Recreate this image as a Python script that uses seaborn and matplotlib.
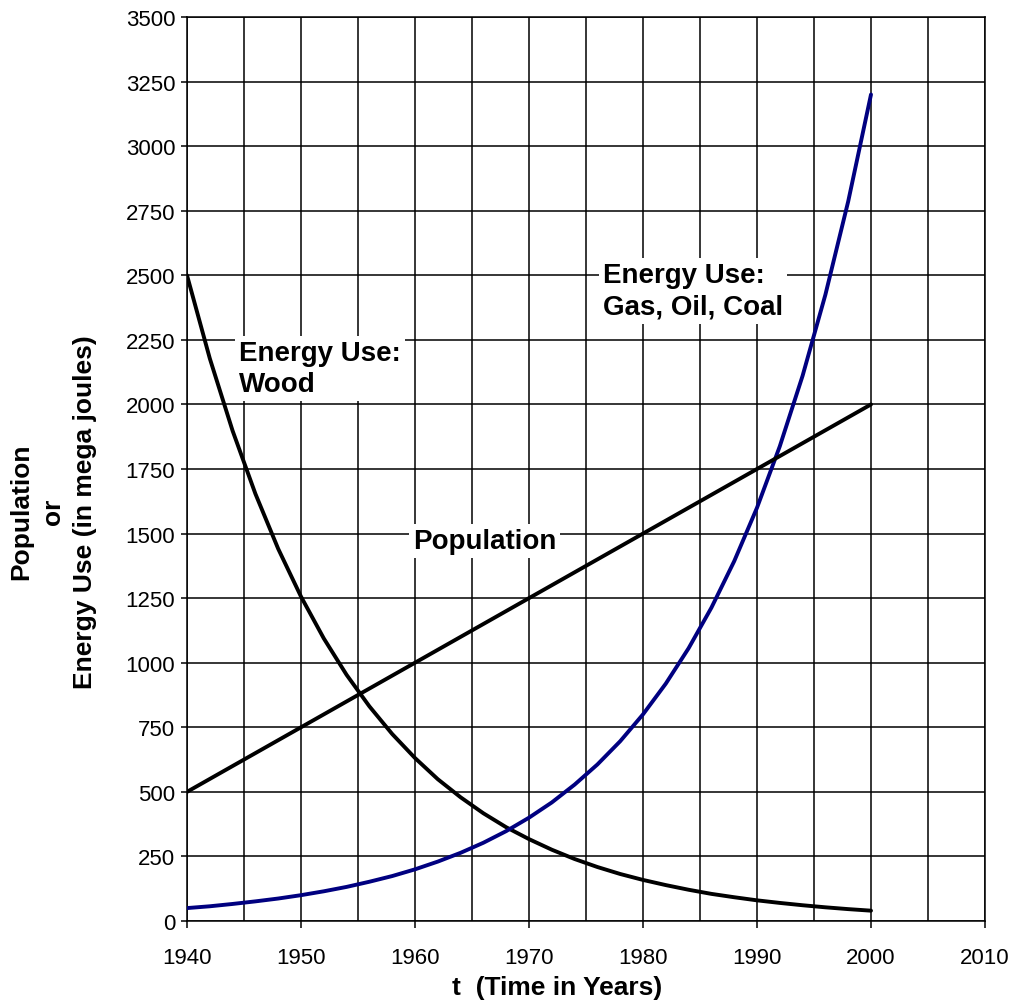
import seaborn as sns
import matplotlib.pyplot as plt
import pandas as pd
import numpy as np

sns.set_style("white")
plt.rcParams['font.family'] = ['Liberation Sans', 'DejaVu Sans']
plt.rcParams['text.color'] = 'black'
plt.rcParams['axes.labelcolor'] = 'black'
plt.rcParams['xtick.color'] = 'black'
plt.rcParams['ytick.color'] = 'black'

# values, every 2 years
years = list(range(1940, 2001, 2))
wood = [2500, 2178, 1898, 1654, 1441, 1256, 1094, 953, 831, 724, 631,
        549, 479, 417, 363, 317, 276, 240, 209, 182, 159,
        139, 121, 105, 92, 80, 70, 61, 53, 46, 40]
fossil = [50, 57, 66, 76, 87, 100, 115, 132, 152, 174, 200,
          230, 264, 303, 348, 400, 459, 528, 606, 696, 800,
          919, 1056, 1213, 1393, 1600, 1838, 2111, 2425, 2786, 3200]
pop_years = [1940, 2000]
population = [500, 2000]

df_energy = pd.DataFrame({"year": years, "wood": wood, "fossil": fossil})
df_pop = pd.DataFrame({"year": pop_years, "population": population})

fig = plt.figure(figsize=(10.14, 10.03), dpi=100)
ax = fig.add_axes([187/1014, 1 - 922/1003, 798/1014, 904/1003])

sns.lineplot(data=df_energy, x="year", y="wood", ax=ax, color="black", lw=2.8, zorder=3)
sns.lineplot(data=df_energy, x="year", y="fossil", ax=ax, color="#000080", lw=2.8, zorder=3)
sns.lineplot(data=df_pop, x="year", y="population", ax=ax, color="black", lw=2.8, zorder=3)

ax.set_xlim(1940, 2010)
ax.set_ylim(0, 3500)
ax.set_xticks(np.arange(1940, 2011, 10))
ax.set_xticks(np.arange(1945, 2010, 10), minor=True)
ax.set_yticks(np.arange(0, 3501, 250))
ax.grid(True, which="both", color="black", lw=1.1, zorder=0)
ax.set_axisbelow(True)
ax.tick_params(axis="x", which="major", direction="out", length=5, width=1.1,
               color="black", labelsize=16, pad=14, bottom=True)
ax.tick_params(axis="x", which="minor", length=0)
ax.tick_params(axis="y", direction="out", length=4.5, width=1.1,
               color="black", labelsize=16, pad=4, left=True)
for s in ax.spines.values():
    s.set_color("black")
    s.set_linewidth(1.1)

ax.set_xlabel("t  (Time in Years)", fontsize=19, fontweight="bold")
ax.xaxis.set_label_coords((557 - 187) / 798, -(988 - 922) / 904)
ax.xaxis.label.set_verticalalignment("center")
ax.set_ylabel("Population\nor\nEnergy Use (in mega joules)", fontsize=19,
              fontweight="bold", linespacing=1.4)
ax.yaxis.set_label_coords(-0.113, 0.4535)

box = dict(facecolor="white", edgecolor="none", pad=3)
ax.text(1944.6, 2250, "Energy Use:\nWood", fontsize=20, fontweight="bold",
        va="top", ha="left", bbox=box, zorder=2, linespacing=1.25)
ax.text(1959.8, 1470, "Population", fontsize=20, fontweight="bold",
        va="center", ha="left", bbox=box, zorder=2)
ax.text(1976.5, 2550, "Energy Use:\nGas, Oil, Coal", fontsize=20, fontweight="bold",
        va="top", ha="left", bbox=box, zorder=2, linespacing=1.25)

fig.savefig("out.png", dpi=100)
plt.close(fig)
